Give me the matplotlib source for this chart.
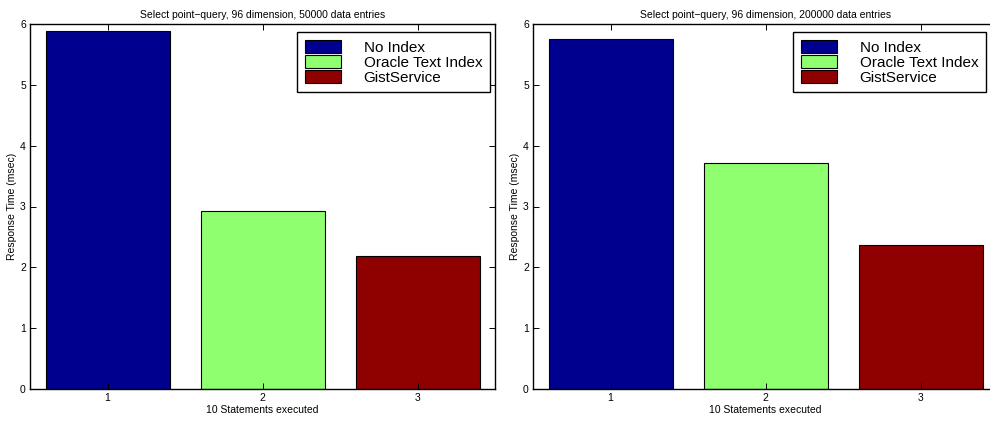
import numpy as np
import matplotlib.pyplot as plt
from matplotlib.patches import Patch

plt.rcParams['font.family'] = ['Liberation Sans', 'DejaVu Sans']

statements = [1, 2, 3]
methods = ['No Index', 'Oracle Text Index', 'GistService']
colors = ['#00008F', '#8FFF70', '#8F0000']

times_50k = [5.88, 2.92, 2.19]
times_200k = [5.76, 3.72, 2.37]

titles = ['Select point\u2212query, 96 dimension, 50000 data entries',
          'Select point\u2212query, 96 dimension, 200000 data entries']

fig = plt.figure(figsize=(9.9, 4.21), dpi=100)
W, H = 990.0, 421.0
# axes boxes in pixels: left, bottom(from top), width, height
boxes = [(30, 389, 465, 365), (533, 389, 465, 365)]
legend_right = [490, 986]

for (lx, by, w, h), vals, title, lr in zip(boxes, [times_50k, times_200k],
                                            titles, legend_right):
    ax = fig.add_axes([lx / W, (H - by) / H, w / W, h / H])
    ax.bar(statements, vals, width=0.8, color=colors,
           edgecolor='black', linewidth=0.8)
    ax.set_xlim(0.5, 3.5)
    ax.set_ylim(0, 6)
    ax.set_xticks(statements)
    ax.set_yticks(range(0, 7))
    ax.tick_params(direction='in', length=4, width=0.7, labelsize=7.5,
                   top=True, right=True, pad=3)
    for s in ax.spines.values():
        s.set_linewidth(1.0)
    ax.set_title(title, fontsize=7.5, pad=4)
    ax.set_xlabel('10 Statements executed', fontsize=7.5, labelpad=1)
    ax.set_ylabel('Response Time (msec)', fontsize=7.5, labelpad=2)

    handles = [Patch(facecolor=c, edgecolor='black', linewidth=0.8) for c in colors]
    leg = ax.legend(handles, methods, loc='upper right',
                    bbox_to_anchor=((lr - lx) / w, (by - 32) / h),
                    borderaxespad=0, fontsize=11, fancybox=False,
                    edgecolor='black', framealpha=1, handlelength=2.35,
                    handleheight=1.0, labelspacing=0, handletextpad=1.5,
                    borderpad=0.5)
    leg.get_frame().set_linewidth(1.0)

fig.savefig('out.png', dpi=100)
